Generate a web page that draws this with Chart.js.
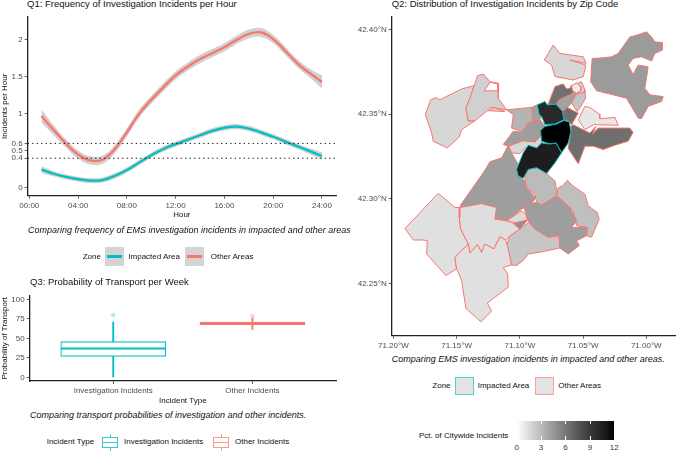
<!DOCTYPE html>
<html>
<head>
<meta charset="utf-8">
<script src="https://cdn.jsdelivr.net/npm/chart.js@4"></script>
<style>
    html, body { margin: 0; padding: 0; background: #fff; }
    body { position: relative; width: 676px; height: 451px; overflow: hidden; font-family: 'Liberation Sans', sans-serif; color: #111; }
    canvas { position: absolute; }
    .t { position: absolute; white-space: nowrap; transform: translateY(-50%); font-size: 8px; line-height: 10px; }
    .title { font-size: 9.5px; line-height: 12px; }
    .cap { font-size: 9px; line-height: 11px; font-style: italic; }
    .key { position: absolute; box-sizing: border-box; }
    .mid { transform: translate(-50%, -50%); color: #333; }
</style>
</head>
<body>
<canvas id="q1" width="340" height="210" style="left:0;top:10px"></canvas>
<canvas id="q3" width="340" height="117" style="left:0;top:289px"></canvas>
<canvas id="q2" width="336" height="340" style="left:340px;top:10px"></canvas>

<div class="t title" style="left:27px;top:4px">Q1: Frequency of Investigation Incidents per Hour</div>
<div class="t cap" style="left:28px;top:230px">Comparing frequency of EMS investigation incidents in impacted and other areas</div>
<div class="t" style="left:82.7px;top:256.7px">Zone</div>
<div class="key" style="left:104.7px;top:246.7px;width:19.3px;height:19.3px;background:#d4d4d4"></div>
<div class="key" style="left:106.7px;top:255.4px;width:15.3px;height:2.3px;background:#00BFC4"></div>
<div class="t" style="left:128.3px;top:256.7px">Impacted Area</div>
<div class="key" style="left:185px;top:246.7px;width:19.3px;height:19.3px;background:#d4d4d4"></div>
<div class="key" style="left:187px;top:255.4px;width:15.3px;height:2.3px;background:#F8766D"></div>
<div class="t" style="left:210.7px;top:256.7px">Other Areas</div>

<div class="t title" style="left:30px;top:282.3px">Q3: Probability of Transport per Week</div>
<div class="t cap" style="left:30px;top:415.3px">Comparing transport probabilities of investigation and other incidents.</div>
<div class="t" style="left:46.7px;top:442.3px">Incident Type</div>
<div class="key" style="left:109.5px;top:433.5px;width:1.2px;height:17.5px;background:#33ccd0"></div>
<div class="key" style="left:102px;top:436.7px;width:16px;height:11px;background:#fff;border:1.2px solid #33ccd0"></div>
<div class="key" style="left:102px;top:441.7px;width:16px;height:1.2px;background:#33ccd0"></div>
<div class="t" style="left:124px;top:442.3px">Investigation Incidents</div>
<div class="key" style="left:220.5px;top:433.5px;width:1.2px;height:17.5px;background:#fa9a93"></div>
<div class="key" style="left:213px;top:436.7px;width:16px;height:11px;background:#fff;border:1.2px solid #fa9a93"></div>
<div class="key" style="left:213px;top:441.7px;width:16px;height:1.2px;background:#fa9a93"></div>
<div class="t" style="left:235px;top:442.3px">Other Incidents</div>

<div class="t title" style="left:391.7px;top:4px">Q2: Distribution of Investigation Incidents by Zip Code</div>
<div class="t cap" style="left:391.7px;top:359px">Comparing EMS investigation incidents in impacted and other areas.</div>
<div class="t" style="left:432.3px;top:386.3px">Zone</div>
<div class="key" style="left:455px;top:376.7px;width:18.5px;height:18.7px;background:#e3e3e3;border:1.3px solid #4dd2d6"></div>
<div class="t" style="left:477.7px;top:386.3px">Impacted Area</div>
<div class="key" style="left:535.3px;top:376.7px;width:18.5px;height:18.7px;background:#e3e3e3;border:1.3px solid #fa9f99"></div>
<div class="t" style="left:558.3px;top:386.3px">Other Areas</div>
<div class="t" style="left:419px;top:436.3px">Pct. of Citywide Incidents</div>
<div class="key" id="colorBar" style="left:516.7px;top:420.7px;width:97.6px;height:19.3px"></div>
<div id="barTicks"></div>

<script>
// Q1 data
const hours = [1, 2, 3, 4, 5, 6, 7, 8, 9, 10, 11, 12, 13, 14, 15, 16, 17, 18, 19, 20, 21, 22, 23, 24];
const otherMean = [.97, .78, .60, .45, .37, .38, .52, .75, 1.0, 1.19, 1.36, 1.52, 1.64, 1.74, 1.82, 1.90, 2.0, 2.08, 2.10, 2.01, 1.85, 1.68, 1.55, 1.43];
const otherHigh = [1.06, .845, .655, .505, .425, .435, .575, .805, 1.055, 1.245, 1.415, 1.575, 1.695, 1.795, 1.875, 1.955, 2.055, 2.14, 2.16, 2.065, 1.905, 1.735, 1.61, 1.52];
const otherLow = [.88, .715, .545, .395, .315, .325, .465, .695, .945, 1.135, 1.305, 1.465, 1.585, 1.685, 1.765, 1.845, 1.945, 2.02, 2.04, 1.955, 1.795, 1.625, 1.49, 1.34];
const impactedMean = [.245, .19, .147, .116, .098, .105, .16, .24, .34, .44, .525, .59, .65, .71, .77, .81, .826, .80, .75, .69, .625, .56, .495, .43];
const impactedHigh = [.29, .225, .18, .15, .132, .14, .195, .275, .375, .475, .56, .625, .685, .745, .805, .845, .862, .835, .785, .725, .66, .595, .535, .48];
const impactedLow = [.20, .155, .114, .082, .064, .07, .125, .205, .305, .405, .49, .555, .615, .675, .735, .775, .79, .765, .715, .655, .59, .525, .455, .38];
const refLines = [0.4, 0.6];
const q1HourTicks = [0, 4, 8, 12, 16, 20, 24];
const q1RateTicks = [0, 0.4, 0.5, 0.6, 1, 1.5, 2];

// Q3 data
const incidentTypes = ['Investigation Incidents', 'Other Incidents'];
const whiskerLow = [0, 61.5];
const boxLow = [27, 67.5];
const boxMedian = [37, 69];
const boxHigh = [46, 71];
const whiskerHigh = [71, 76];
const outliers = [80, 78.5];
const q3Ticks = [0, 25, 50, 75, 100];

// Q2 data: zone outlines as [lon, lat], citywide share in pct, impacted flag
const lonTicks = [-71.20, -71.15, -71.10, -71.05, -71.00];
const latTicks = [42.25, 42.30, 42.35, 42.40];
const barTickValues = [0, 3, 6, 9, 12];

const winthropArea = [[-71.0428,42.3829],[-71.0340,42.3833],[-71.0274,42.3839],[-71.0222,42.3859],[-71.0130,42.3956],[-71.0077,42.3966],[-70.9998,42.3986],[-70.9958,42.3956],[-70.9932,42.3927],[-70.9874,42.3923],[-70.9874,42.3878],[-70.9932,42.3859],[-70.9958,42.3814],[-71.0038,42.3839],[-71.0104,42.3829],[-71.0143,42.3790],[-71.0104,42.3735],[-71.0064,42.3790],[-70.9985,42.3780],[-71.0011,42.3653],[-70.9972,42.3614],[-70.9866,42.3604],[-70.9879,42.3575],[-70.9985,42.3546],[-71.0038,42.3473],[-71.0064,42.3477],[-71.0156,42.3594],[-71.0261,42.3614],[-71.0393,42.3638],[-71.0440,42.3692]];
const charlestown = [[-71.0736,42.3908],[-71.0683,42.3859],[-71.0498,42.3839],[-71.0477,42.3800],[-71.0604,42.3820],[-71.0477,42.3790],[-71.0498,42.3722],[-71.0578,42.3702],[-71.0722,42.3722],[-71.0749,42.3790],[-71.0807,42.3820],[-71.0775,42.3859]];
const northDark = [[-71.0775,42.3561],[-71.0722,42.3663],[-71.0657,42.3679],[-71.0630,42.3649],[-71.0604,42.3653],[-71.0591,42.3673],[-71.0572,42.3634],[-71.0604,42.3614],[-71.0688,42.3585],[-71.0714,42.3555]];
const northMid = [[-71.0714,42.3555],[-71.0688,42.3585],[-71.0604,42.3614],[-71.0572,42.3630],[-71.0556,42.3618],[-71.0591,42.3565],[-71.0630,42.3536],[-71.0669,42.3520]];
const northLight = [[-71.0556,42.3618],[-71.0485,42.3634],[-71.0480,42.3594],[-71.0525,42.3536],[-71.0546,42.3516],[-71.0591,42.3565]];
const northRing = [[-71.0564,42.3677],[-71.0512,42.3692],[-71.0485,42.3643],[-71.0485,42.3630],[-71.0551,42.3618],[-71.0519,42.3638],[-71.0519,42.3663],[-71.0551,42.3683]];
const northDot = [[-71.0591,42.3669],[-71.0551,42.3683],[-71.0519,42.3663],[-71.0519,42.3638],[-71.0551,42.3624],[-71.0583,42.3638]];
const downtown = [[-71.0662,42.3516],[-71.0625,42.3540],[-71.0538,42.3506],[-71.0591,42.3438],[-71.0612,42.3457],[-71.0651,42.3467]];
const fenwayGap = [[-71.1092,42.3311],[-71.0973,42.3344],[-71.0880,42.3336],[-71.0828,42.3379],[-71.0820,42.3336],[-71.0854,42.3297],[-71.0959,42.3301],[-71.0999,42.3266],[-71.1065,42.3272]];
const brooklineSide = [[-71.1131,42.3321],[-71.1052,42.3399],[-71.0986,42.3393],[-71.0933,42.3448],[-71.0841,42.3467],[-71.0809,42.3438],[-71.0801,42.3428],[-71.0836,42.3403],[-71.0828,42.3379],[-71.0880,42.3336],[-71.0973,42.3344],[-71.1092,42.3311]];
const alstonEast = [[-71.1105,42.3526],[-71.0907,42.3540],[-71.0894,42.3457],[-71.0933,42.3448],[-71.0986,42.3393],[-71.1012,42.3403],[-71.1065,42.3418],[-71.1052,42.3497]];
const backBay = [[-71.0907,42.3540],[-71.0862,42.3555],[-71.0846,42.3497],[-71.0828,42.3487],[-71.0841,42.3467],[-71.0894,42.3457]];
const brighton = [[-71.1747,42.3497],[-71.1705,42.3585],[-71.1663,42.3598],[-71.1632,42.3585],[-71.1460,42.3649],[-71.1360,42.3669],[-71.1394,42.3594],[-71.1426,42.3536],[-71.1408,42.3461],[-71.1355,42.3461],[-71.1460,42.3409],[-71.1479,42.3364],[-71.1574,42.3301],[-71.1684,42.3340],[-71.1697,42.3389]];
const allston = [[-71.1360,42.3669],[-71.1334,42.3728],[-71.1289,42.3737],[-71.1236,42.3692],[-71.1170,42.3683],[-71.1170,42.3594],[-71.1105,42.3526],[-71.1236,42.3540],[-71.1257,42.3520],[-71.1355,42.3461],[-71.1408,42.3461],[-71.1426,42.3536],[-71.1394,42.3594]];
const allstonHole = [[-71.1236,42.3688],[-71.1176,42.3679],[-71.1176,42.3638],[-71.1281,42.3638]];
const allstonStrip = [[-71.1249,42.3520],[-71.1205,42.3540],[-71.1118,42.3516]];
const jamaicaPlain = [[-71.1473,42.2959],[-71.1289,42.3154],[-71.1236,42.3219],[-71.1144,42.3242],[-71.1091,42.3317],[-71.1065,42.3272],[-71.1012,42.3203],[-71.1026,42.3174],[-71.0986,42.3121],[-71.0941,42.3095],[-71.0960,42.3076],[-71.0873,42.3007],[-71.0894,42.2984],[-71.0986,42.2939],[-71.1105,42.2870],[-71.1197,42.2886],[-71.1197,42.2953],[-71.1315,42.2972],[-71.1447,42.2933]];
const dorchesterNorth = [[-71.0960,42.3125],[-71.0933,42.3174],[-71.0867,42.3184],[-71.0788,42.3150],[-71.0722,42.3105],[-71.0704,42.3037],[-71.0749,42.2978],[-71.0828,42.2964],[-71.0867,42.2978],[-71.0880,42.3027],[-71.0946,42.3066]];
const dorchesterEast = [[-71.0625,42.3109],[-71.0578,42.3076],[-71.0485,42.3027],[-71.0459,42.2959],[-71.0388,42.2919],[-71.0372,42.2880],[-71.0433,42.2773],[-71.0472,42.2782],[-71.0467,42.2831],[-71.0551,42.2841],[-71.0578,42.2929],[-71.0709,42.3023],[-71.0696,42.3066],[-71.0662,42.3076]];
const dorchesterSouth = [[-71.0973,42.2968],[-71.0867,42.2978],[-71.0828,42.2964],[-71.0709,42.3017],[-71.0604,42.2949],[-71.0551,42.2870],[-71.0591,42.2831],[-71.0472,42.2831],[-71.0472,42.2782],[-71.0551,42.2753],[-71.0530,42.2724],[-71.0617,42.2675],[-71.0683,42.2710],[-71.0691,42.2782],[-71.0775,42.2773],[-71.0880,42.2821],[-71.0933,42.2870],[-71.0959,42.2929]];
const forestHillsA = [[-71.1105,42.2870],[-71.0986,42.2929],[-71.0952,42.2910],[-71.0941,42.2874],[-71.1046,42.2857],[-71.1065,42.2865]];
const forestHillsB = [[-71.1046,42.2857],[-71.0941,42.2874],[-71.0999,42.2821]];
const mattapan = [[-71.1105,42.2724],[-71.1078,42.2782],[-71.0999,42.2821],[-71.0933,42.2861],[-71.0880,42.2821],[-71.0775,42.2773],[-71.0691,42.2782],[-71.0683,42.2710],[-71.0841,42.2685],[-71.0933,42.2675],[-71.0973,42.2636],[-71.1026,42.2606],[-71.1065,42.2610]];
const roslindale = [[-71.1473,42.2949],[-71.1302,42.2972],[-71.1184,42.2949],[-71.1197,42.2880],[-71.1105,42.2870],[-71.1065,42.2861],[-71.0999,42.2821],[-71.1078,42.2782],[-71.1112,42.2757],[-71.1157,42.2776],[-71.1205,42.2704],[-71.1276,42.2733],[-71.1302,42.2684],[-71.1336,42.2729],[-71.1394,42.2679],[-71.1408,42.2733],[-71.1468,42.2821],[-71.1479,42.2890]];
const westRoxbury = [[-71.1908,42.2825],[-71.1645,42.3033],[-71.1513,42.2949],[-71.1473,42.2949],[-71.1479,42.2890],[-71.1468,42.2821],[-71.1408,42.2733],[-71.1513,42.2655],[-71.1500,42.2587],[-71.1584,42.2547],[-71.1737,42.2675],[-71.1732,42.2753],[-71.1763,42.2757],[-71.1842,42.2757]];
const hydePark = [[-71.1513,42.2655],[-71.1408,42.2733],[-71.1394,42.2679],[-71.1336,42.2729],[-71.1302,42.2684],[-71.1276,42.2733],[-71.1205,42.2704],[-71.1157,42.2776],[-71.1112,42.2757],[-71.1096,42.2718],[-71.1065,42.2610],[-71.1131,42.2596],[-71.1096,42.2557],[-71.1091,42.2479],[-71.1257,42.2385],[-71.1223,42.2338],[-71.1307,42.2274],[-71.1426,42.2352],[-71.1460,42.2518],[-71.1500,42.2587]];
const southBoston = [[-71.0596,42.3428],[-71.0578,42.3438],[-71.0446,42.3389],[-71.0398,42.3428],[-71.0425,42.3383],[-71.0380,42.3418],[-71.0130,42.3418],[-71.0104,42.3393],[-71.0143,42.3340],[-71.0248,42.3317],[-71.0340,42.3291],[-71.0419,42.3311],[-71.0485,42.3311],[-71.0538,42.3207],[-71.0617,42.3297],[-71.0596,42.3399]];
const seaport = [[-71.0538,42.3467],[-71.0485,42.3546],[-71.0446,42.3540],[-71.0372,42.3501],[-71.0367,42.3473],[-71.0248,42.3481],[-71.0222,42.3434],[-71.0393,42.3438],[-71.0406,42.3442],[-71.0485,42.3409]];
const impactedNorth = [[-71.0862,42.3555],[-71.0801,42.3575],[-71.0783,42.3555],[-71.0714,42.3559],[-71.0662,42.3516],[-71.0651,42.3467],[-71.0722,42.3442],[-71.0801,42.3438],[-71.0828,42.3487],[-71.0846,42.3497]];
const impactedMiddle = [[-71.0836,42.3403],[-71.0801,42.3428],[-71.0709,42.3442],[-71.0651,42.3463],[-71.0609,42.3454],[-71.0596,42.3399],[-71.0617,42.3330],[-71.0670,42.3272],[-71.0714,42.3330],[-71.0762,42.3324],[-71.0828,42.3340]];
const impactedSouth = [[-71.1026,42.3174],[-71.0973,42.3272],[-71.0933,42.3317],[-71.0867,42.3301],[-71.0828,42.3330],[-71.0762,42.3324],[-71.0714,42.3330],[-71.0670,42.3272],[-71.0722,42.3213],[-71.0788,42.3150],[-71.0867,42.3184],[-71.0933,42.3174],[-71.0973,42.3121],[-71.1012,42.3135]];

const zoneShapes = [winthropArea, charlestown, northDark, northMid, northLight, northRing, northDot, downtown, fenwayGap, brooklineSide, alstonEast, backBay, brighton, allston, allstonHole, allstonStrip, jamaicaPlain, dorchesterNorth, dorchesterEast, dorchesterSouth, mattapan, roslindale, forestHillsA, forestHillsB, westRoxbury, hydePark, southBoston, seaport, impactedNorth, impactedMiddle, impactedSouth];
const zonePct = [4.3, 1.7, 6.3, 4.0, 2.5, 2.0, 0.8, 6.4, 1.7, 4.2, 3.2, 4.0, 1.7, 2.0, 0, 2.0, 4.2, 2.9, 2.7, 4.2, 2.4, 1.4, 1.5, 4.8, 1.3, 1.3, 6.4, 1.0, 10, 12, 10.7];
const zoneImpacted = zoneShapes.map(s => s === impactedNorth || s === impactedMiddle || s === impactedSouth);

const TEAL = '#00BFC4';
const RED = '#F8766D';
const BAND = '#d0d0d0';

Chart.defaults.font.family = "'Liberation Sans', sans-serif";
Chart.defaults.font.size = 8;
Chart.defaults.color = '#4d4d4d';
Chart.defaults.animation = false;
Chart.defaults.responsive = false;
Chart.defaults.plugins.legend.display = false;
Chart.defaults.plugins.tooltip.enabled = false;

// white to black legend scale, linear in lightness like the reference
function pctToGray(v) {
    const L = 100 * (1 - v / 12);
    const fy = (L + 16) / 116;
    const y = fy > 6 / 29 ? fy * fy * fy : 3 * (6 / 29) * (6 / 29) * (fy - 4 / 29);
    const s = y <= 0.0031308 ? 12.92 * y : 1.055 * Math.pow(y, 1 / 2.4) - 0.055;
    const g = Math.round(255 * Math.min(1, Math.max(0, s)));
    return `rgb(${g},${g},${g})`;
}

function fixedTicks(values) {
    return scale => { scale.ticks = values.map(v => ({ value: v })); };
}

function axis(min, max, ticks, size, label, isY, format) {
    const out = {
        type: 'linear',
        min,
        max,
        offset: false,
        afterBuildTicks: fixedTicks(ticks),
        afterFit: scale => { if (isY) scale.width = size; else scale.height = size; },
        border: { display: true, color: '#222', width: 1.3 },
        grid: { display: true, offset: false, drawOnChartArea: false, drawTicks: true, tickLength: 3, tickWidth: 0.8, tickColor: '#333' },
        ticks: { autoSkip: false, maxRotation: 0, minRotation: 0, padding: 2, color: '#4d4d4d', font: { size: 8 }, callback: format }
    };
    if (label) out.title = { display: true, text: label, color: '#111', font: { size: 8 }, padding: 0 };
    return out;
}

const xy = (xs, ys) => xs.map((x, i) => ({ x, y: ys[i] }));
const smooth = { pointRadius: 0, tension: 0.4, fill: false };

// Q1
const q1XMin = -0.13;
const q1XMax = 25.15;
new Chart(document.getElementById('q1'), {
    type: 'line',
    data: {
        datasets: [
            ...refLines.map(v => ({
                data: [{ x: q1XMin, y: v }, { x: q1XMax, y: v }],
                borderColor: '#111', borderWidth: 1, borderDash: [1.3, 3.2], pointRadius: 0
            })),
            { data: xy(hours, otherMean), borderColor: RED, borderWidth: 2.3, ...smooth },
            { data: xy(hours, impactedMean), borderColor: TEAL, borderWidth: 2.3, ...smooth },
            { data: xy(hours, otherHigh), borderWidth: 0, ...smooth, fill: '+1', backgroundColor: BAND },
            { data: xy(hours, otherLow), borderWidth: 0, ...smooth },
            { data: xy(hours, impactedHigh), borderWidth: 0, ...smooth, fill: '+1', backgroundColor: BAND },
            { data: xy(hours, impactedLow), borderWidth: 0, ...smooth }
        ]
    },
    options: {
        layout: { autoPadding: false, padding: { top: 5, right: 4, bottom: 0, left: 0 } },
        scales: {
            x: axis(q1XMin, q1XMax, q1HourTicks, 24.3, 'Hour', false, v => String(v).padStart(2, '0') + ':00'),
            y: axis(-0.107, 2.312, q1RateTicks, 27.7, 'Incidents per Hour', true, v => String(v))
        }
    }
});

// Q3
const q3Colors = [TEAL, RED];
const catX = [1, 2];
new Chart(document.getElementById('q3'), {
    type: 'bar',
    data: {
        datasets: [
            {
                type: 'line', showLine: false, order: 0,
                data: xy(catX, outliers), pointRadius: 2.3, pointBorderWidth: 0,
                pointBackgroundColor: ['rgba(0,191,196,0.3)', 'rgba(248,118,109,0.3)']
            },
            {
                type: 'line', showLine: false, order: 1,
                data: xy(catX, boxMedian), pointStyle: 'line', pointRadius: 52.3, pointBorderWidth: 2,
                pointBorderColor: q3Colors
            },
            {
                order: 2, grouped: false, barThickness: 105,
                data: catX.map((x, i) => ({ x, y: [boxLow[i], boxHigh[i]] })),
                backgroundColor: '#fff', borderColor: q3Colors, borderWidth: 1.2, borderSkipped: false
            },
            {
                order: 3, grouped: false, barThickness: 1.2,
                data: catX.map((x, i) => ({ x, y: [whiskerLow[i], whiskerHigh[i]] })),
                backgroundColor: q3Colors
            }
        ]
    },
    options: {
        layout: { autoPadding: false, padding: { top: 5, right: 4, bottom: 0, left: 0 } },
        scales: {
            x: axis(0.4, 2.6, catX, 25, 'Incident Type', false, v => incidentTypes[v - 1]),
            y: axis(-4.6, 104.6, q3Ticks, 29.7, 'Probability of Transport', true, v => String(v))
        }
    }
});

// Q2
new Chart(document.getElementById('q2'), {
    type: 'scatter',
    data: {
        datasets: zoneShapes.map((shape, i) => ({
            data: shape.concat([shape[0]]).map(p => ({ x: p[0], y: p[1] })),
            showLine: true,
            pointRadius: 0,
            fill: 'shape',
            backgroundColor: pctToGray(zonePct[i]),
            borderColor: zoneImpacted[i] ? TEAL : RED,
            borderWidth: 1,
            borderJoinStyle: 'round'
        })).reverse()
    },
    options: {
        layout: { autoPadding: false, padding: { top: 5, right: 0, bottom: 0, left: 0 } },
        scales: {
            x: axis(-71.2013, -70.9765, lonTicks, 14.3, null, false, v => Math.abs(v).toFixed(2) + '°W'),
            y: axis(42.2192, 42.4075, latTicks, 51.7, null, true, v => v.toFixed(2) + '°N')
        }
    }
});

// colour bar for the pct legend
const stops = [];
for (let v = 0; v <= 12; v++) stops.push(pctToGray(v));
document.getElementById('colorBar').style.background = `linear-gradient(to right, ${stops.join(',')})`;
const barTicksEl = document.getElementById('barTicks');
barTickValues.forEach(v => {
    const x = 516.7 + v / 12 * 97.6;
    const label = document.createElement('div');
    label.className = 't mid';
    label.style.left = x + 'px';
    label.style.top = '447.7px';
    label.textContent = v;
    barTicksEl.appendChild(label);
    [420.7, 436.2].forEach(top => {
        const tick = document.createElement('div');
        tick.className = 'key';
        tick.style.cssText = `left:${x - 0.25}px;top:${top}px;width:0.5px;height:3.8px;background:#fff`;
        barTicksEl.appendChild(tick);
    });
});
</script>
</body>
</html>
